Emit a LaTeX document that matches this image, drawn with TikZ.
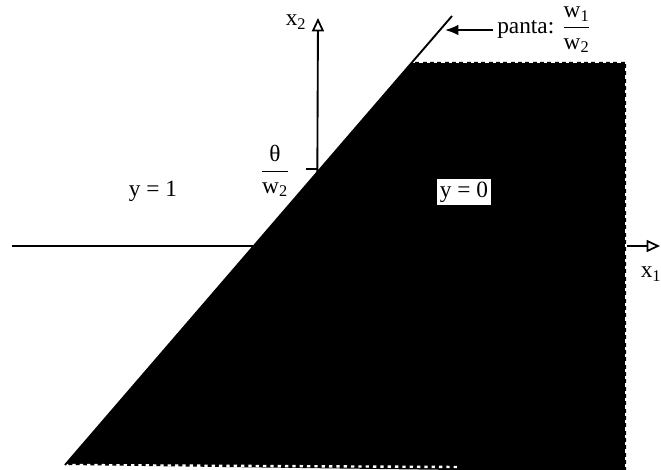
\documentclass[tikz,border=0pt]{standalone}
\usepackage{amsmath}
\usepackage{fontspec}
\setmainfont{Liberation Serif}
\usetikzlibrary{arrows.meta}

\tikzset{
  axis/.style={line width=1.4pt,-{Triangle[open,length=10pt,width=9pt,line width=1.3pt]}},
  lbl/.style={font=\fontsize{17.5}{20}\selectfont,inner sep=0pt},
  cutedge/.style={white,line width=1.8pt,dash pattern=on 2.5pt off 3pt},
}

\begin{document}
\begin{tikzpicture}[x=0.75pt,y=-0.75pt]
  \useasboundingbox (0,0) rectangle (661,470);
  % — axes
  \coordinate (O) at (317,246);
  \coordinate (Xa) at (12,246);
  \coordinate (Xb) at (660,246);
  \coordinate (Xc) at (318,18);
  \draw[axis] (Xa) -- (Xb);
  \draw[axis] (O) -- (Xc);
  \draw[line width=1.4pt] (306,169) -- (317,169);
  % — region y = 0
  \fill[black] (65,465) -- (412,62) -- (626,62) -- (626,470) -- (458,470) -- cycle;
  \draw[cutedge] (412,62) -- (626,62) -- (626,470);
  \draw[cutedge] (65,465) -- (458,467);
  \draw[line width=1.4pt] (65,465) -- (452,16);
  % — labels
  \node[lbl] (yone) at (153,191) {y = 1};
  \node[lbl,fill=white,inner sep=2pt] (yzero) at (464,192) {y = 0};
  \node[lbl] (xone) at (651,274) {x\textsubscript{1}};
  \node[lbl] (xtwo) at (296,22) {x\textsubscript{2}};
  \node[lbl] (theta) at (275,171) {$\dfrac{\text{θ}}{\text{w\textsubscript{2}}}$};
  \node[lbl,anchor=west] (slope) at (497,30) {panta: $\dfrac{\text{w\textsubscript{1}}}{\text{w\textsubscript{2}}}$};
  \coordinate (tip) at (445,30);
  \draw[line width=1.4pt,shorten <=3pt,-{Latex[length=10pt,width=8pt]}] (slope.west) -- (tip);
\end{tikzpicture}
\end{document}
